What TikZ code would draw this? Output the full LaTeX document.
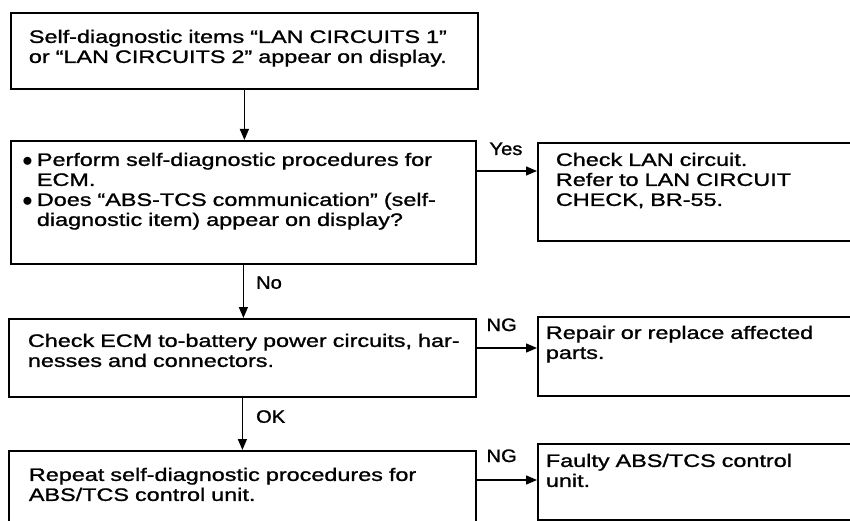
\documentclass[tikz,border=0pt]{standalone}
\usepackage{fontspec}
\setmainfont[FakeStretch=1.3, FakeBold=1.2]{Liberation Sans}
\newfontfamily\lblfont[FakeStretch=1.12, FakeBold=1.2]{Liberation Sans}
\usepackage{tikz}
\usetikzlibrary{arrows.meta, positioning}
\newcommand\itembul{\makebox[13pt][l]{\fontsize{21}{20}\selectfont\hspace{-1.5pt}\raisebox{-1pt}{$\bullet$}}}
\newcommand\itemgap{\hspace*{13pt}}
\tikzset{
	chkbox/.style={rectangle, draw=black, line width=1.8pt, anchor=north west, align=left, inner sep=0pt},
	lpad/.style ={execute at begin node={\leftskip=#1}},
	flow/.style ={-{Triangle[length=11pt, width=9pt]}, line width=1.4pt},
	lbl/.style  ={anchor=base west, inner sep=0pt, font=\lblfont\fontsize{18}{20}\selectfont},
}
\begin{document}
\begin{tikzpicture}[x=1pt, y=-1pt, font=\fontsize{18}{20}\selectfont]
	\useasboundingbox (0,0) rectangle (850,521);
	\clip (0,0) rectangle (850,521);
	% left column
	\node[chkbox, text width=467pt, text height=30pt, text depth=46pt, lpad=18pt] (diag) at (10,12)
		{Self-diagnostic items “LAN CIRCUITS 1”\\or “LAN CIRCUITS 2” appear on display.};
	\node[chkbox, text width=465pt, text height=25pt, text depth=98pt, lpad=13pt] (ecm) at (10,140)
		{\itembul Perform self-diagnostic procedures for\\\itemgap ECM.\\\itembul Does “ABS-TCS communication” (self-\\\itemgap diagnostic item) appear on display?};
	\node[chkbox, text width=467pt, text height=28pt, text depth=50pt, lpad=19pt] (power) at (8,318)
		{Check ECM to-battery power circuits, har-\\nesses and connectors.};
	\node[chkbox, text width=467pt, text height=30pt, text depth=80pt, lpad=20pt] (repeat) at (8,450)
		{Repeat self-diagnostic procedures for\\ABS/TCS control unit.};
	% right column
	\node[chkbox, text width=340pt, text height=23pt, text depth=75pt, lpad=18pt] (lan) at (537,142)
		{Check LAN circuit.\\Refer to LAN CIRCUIT\\CHECK, BR-55.};
	\node[chkbox, text width=340pt, text height=22pt, text depth=57pt, lpad=8pt] (repair) at (537,316)
		{Repair or replace affected\\parts.};
	\node[chkbox, text width=340pt, text height=23pt, text depth=53pt, lpad=8pt] (faulty) at (537,443)
		{Faulty ABS/TCS control\\unit.};
	% connectors
	\coordinate (yes) at ([yshift=-31pt]ecm.north east);
	\coordinate (ng1) at ([yshift=-30pt]power.north east);
	\coordinate (ng2) at ([yshift=-30pt]repeat.north east);
	\draw[flow] (diag.south) -- (diag.south |- ecm.north);
	\draw[flow] (ecm.south) -- (ecm.south |- power.north) node[lbl, pos=0, xshift=12pt, yshift=-24pt] {No};
	\draw[flow] (power.south) -- (power.south |- repeat.north) node[lbl, pos=0, xshift=13pt, yshift=-25pt] {OK};
	\draw[flow] (yes) -- (yes -| lan.west) node[lbl, pos=0, xshift=12pt, yshift=16pt] {Yes};
	\draw[flow] (ng1) -- (ng1 -| repair.west) node[lbl, pos=0, xshift=9pt, yshift=17pt] {NG};
	\draw[flow] (ng2) -- (ng2 -| faulty.west) node[lbl, pos=0, xshift=9pt, yshift=18pt] {NG};
\end{tikzpicture}
\end{document}
